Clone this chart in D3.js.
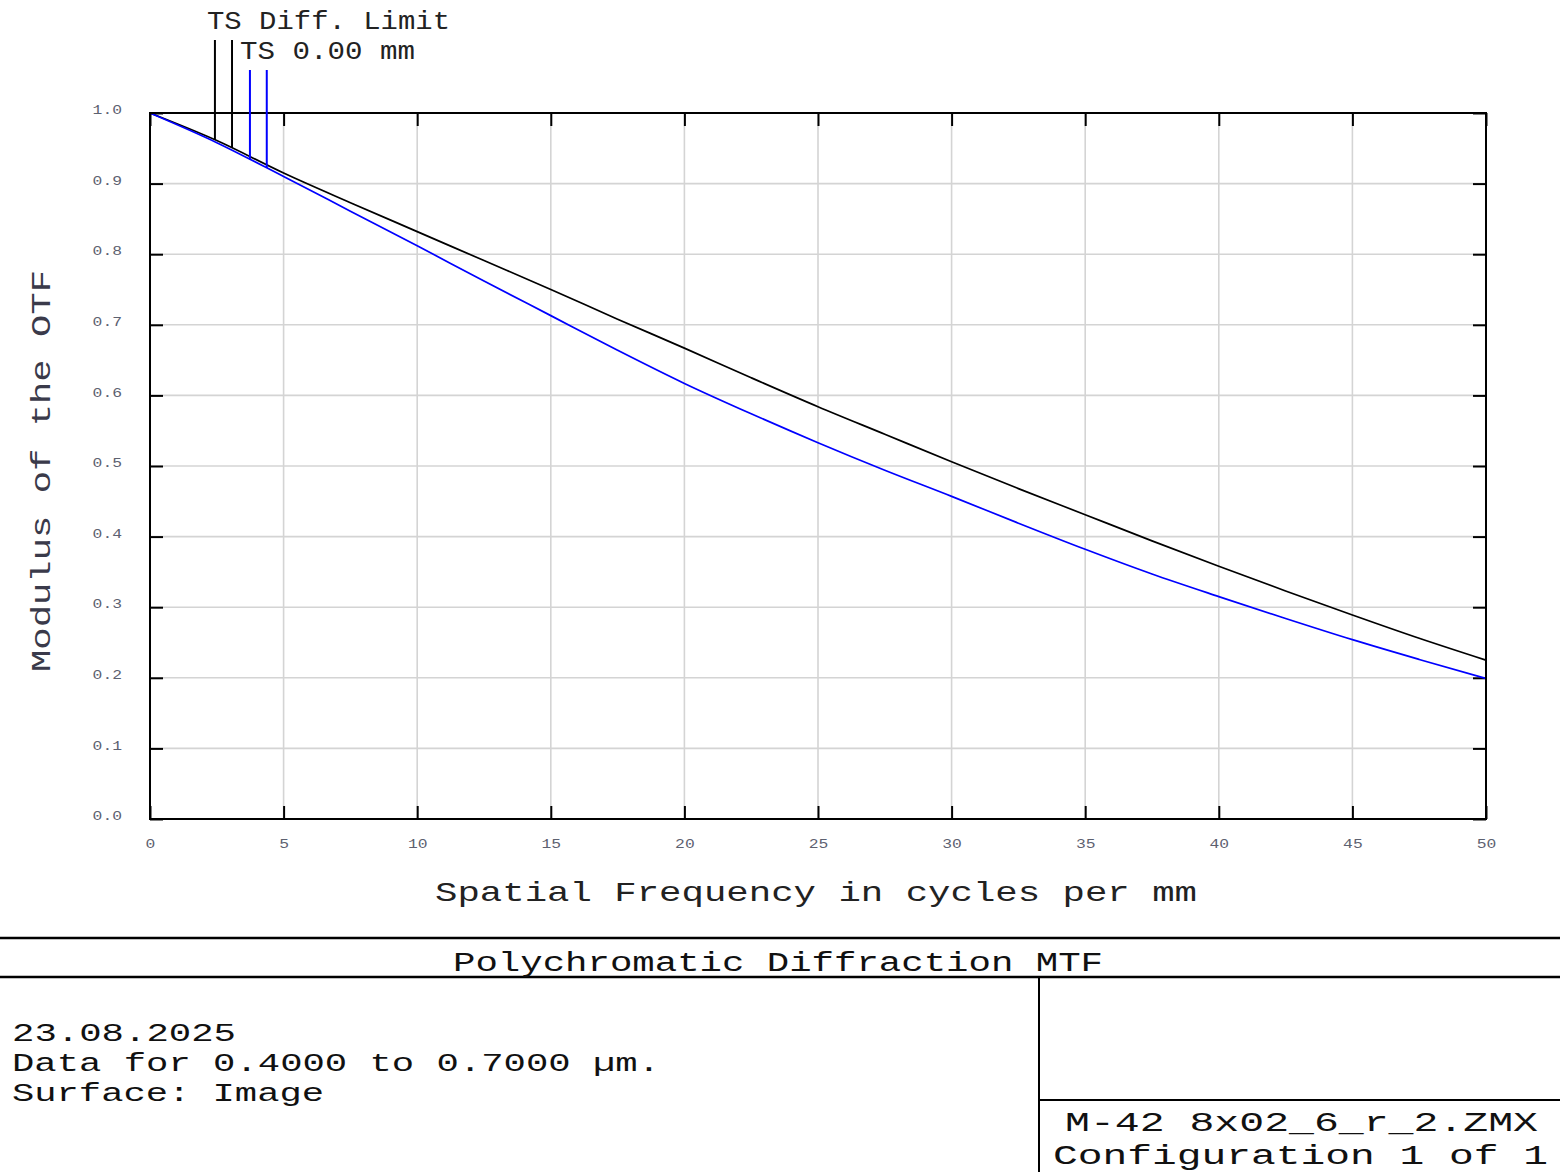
<!DOCTYPE html>
<html>
<head>
<meta charset="utf-8">
<script src="https://cdn.jsdelivr.net/npm/d3@7"></script>
<style>
  html, body { margin: 0; padding: 0; background: #fff; }
  svg { display: block; }
  text { font-family: "Liberation Mono", "Courier New", monospace; }
</style>
</head>
<body>
<svg id="chart" width="1560" height="1172"></svg>
<script>
// ---------- data ----------
const frequencies = [0, 2.5, 5, 7.5, 10, 12.5, 15, 17.5, 20, 22.5, 25, 27.5, 30, 32.5, 35, 37.5, 40, 42.5, 45, 47.5, 50];
const diffLimit   = [1.0, 0.961, 0.915, 0.873, 0.832, 0.791, 0.750, 0.708, 0.667, 0.625, 0.584, 0.545, 0.506, 0.468, 0.431, 0.394, 0.358, 0.323, 0.289, 0.256, 0.225];
const field0      = [1.0, 0.958, 0.910, 0.861, 0.812, 0.762, 0.713, 0.664, 0.617, 0.574, 0.533, 0.494, 0.457, 0.419, 0.382, 0.347, 0.315, 0.284, 0.254, 0.226, 0.199];
const seriesNames = ["TS Diff. Limit", "TS 0.00 mm"];
const legendFreqs = [[2.43, 3.07], [3.74, 4.37]];
const xTicks = [0, 5, 10, 15, 20, 25, 30, 35, 40, 45, 50];
const yTicks = [0.0, 0.1, 0.2, 0.3, 0.4, 0.5, 0.6, 0.7, 0.8, 0.9, 1.0];
const xTitle = "Spatial Frequency in cycles per mm";
const yTitle = "Modulus of the OTF";
const chartTitle = "Polychromatic Diffraction MTF";
const infoLines = ["23.08.2025", "Data for 0.4000 to 0.7000 \u00b5m.", "Surface: Image"];
const fileLines = ["M-42 8x02_6_r_2.ZMX", "Configuration 1 of 1"];

// ---------- layout ----------
const svg = d3.select("#chart");
const L = 150, R = 1486, T = 113, B = 819;
const x = d3.scaleLinear().domain([0, 50]).range([L, R]);
const y = d3.scaleLinear().domain([0, 1]).range([B, T]);
const colors = ["#000000", "#0000ff"];
const series = [diffLimit, field0];

// grid
const grid = svg.append("g");
grid.selectAll(".gx").data(xTicks.slice(1, -1)).join("line")
  .attr("x1", d => x(d)).attr("x2", d => x(d)).attr("y1", T).attr("y2", B)
  .attr("stroke", "#d4d4d4").attr("stroke-width", 1.6);
grid.selectAll(".gy").data(yTicks.slice(1, -1)).join("line")
  .attr("y1", d => y(d)).attr("y2", d => y(d)).attr("x1", L).attr("x2", R)
  .attr("stroke", "#d4d4d4").attr("stroke-width", 1.6);

// axes (inward ticks)
const tickLen = 13;
const fmtY = d3.format(".1f");
const axL = svg.append("g").attr("transform", `translate(${L},0)`)
  .call(d3.axisLeft(y).tickValues(yTicks).tickFormat(fmtY).tickSizeInner(-tickLen).tickSizeOuter(0).tickPadding(28));
const axB = svg.append("g").attr("transform", `translate(0,${B})`)
  .call(d3.axisBottom(x).tickValues(xTicks).tickFormat(d3.format("d")).tickSizeInner(-tickLen).tickSizeOuter(0).tickPadding(20));
const axR = svg.append("g").attr("transform", `translate(${R},0)`)
  .call(d3.axisRight(y).tickValues(yTicks).tickFormat("").tickSizeInner(-tickLen).tickSizeOuter(0));
const axT = svg.append("g").attr("transform", `translate(0,${T})`)
  .call(d3.axisTop(x).tickValues(xTicks).tickFormat("").tickSizeInner(-tickLen).tickSizeOuter(0));
[axL, axB, axR, axT].forEach(a => {
  a.select(".domain").remove();
  a.selectAll(".tick line").attr("stroke", "#000").attr("stroke-width", 2);
  a.selectAll(".tick text").attr("font-family", "'Liberation Mono', monospace")
    .attr("font-size", 13).attr("fill", "#5d6170")
    .attr("textLength", function () { return this.textContent.length * 9.8; })
    .attr("lengthAdjust", "spacingAndGlyphs");
});
axL.selectAll(".tick text").attr("dy", "0.05em");

// curves
const line = d3.line().x((d, i) => x(frequencies[i])).y(d => y(d)).curve(d3.curveMonotoneX);
series.forEach((s, k) => {
  svg.append("path").datum(s).attr("d", line)
    .attr("fill", "none").attr("stroke", colors[k]).attr("stroke-width", 1.7);
});

// frame
svg.append("rect").attr("x", L).attr("y", T).attr("width", R - L).attr("height", B - T)
  .attr("fill", "none").attr("stroke", "#000").attr("stroke-width", 2);

// legend drop lines
function interp(s, f) {
  const i = d3.bisectRight(frequencies, f) - 1;
  const t = (f - frequencies[i]) / (frequencies[i + 1] - frequencies[i]);
  return s[i] + t * (s[i + 1] - s[i]);
}
const legendTop = [40, 70];
series.forEach((s, k) => {
  legendFreqs[k].forEach(f => {
    svg.append("line").attr("x1", x(f)).attr("x2", x(f))
      .attr("y1", legendTop[k]).attr("y2", y(interp(s, f)))
      .attr("stroke", colors[k]).attr("stroke-width", 2);
  });
});
const legendText = [{ x: 207, y: 29, w: 243 }, { x: 240, y: 59, w: 175 }];
seriesNames.forEach((n, k) => {
  svg.append("text").attr("x", legendText[k].x).attr("y", legendText[k].y)
    .attr("font-size", 26).attr("fill", "#222").text(n)
    .attr("textLength", legendText[k].w).attr("lengthAdjust", "spacingAndGlyphs");
});

// axis titles
svg.append("text").attr("x", 435).attr("y", 901).attr("font-size", 28).attr("fill", "#222")
  .attr("textLength", 762).attr("lengthAdjust", "spacingAndGlyphs").text(xTitle);
svg.append("text").attr("transform", "translate(50,672) rotate(-90)").attr("font-size", 28).attr("fill", "#3a3a4a")
  .attr("textLength", 402).attr("lengthAdjust", "spacingAndGlyphs").text(yTitle);

// bottom info box
const box = svg.append("g");
box.append("line").attr("x1", 0).attr("x2", 1560).attr("y1", 938).attr("y2", 938).attr("stroke", "#000").attr("stroke-width", 2.5);
box.append("line").attr("x1", 0).attr("x2", 1560).attr("y1", 977).attr("y2", 977).attr("stroke", "#000").attr("stroke-width", 2.5);
box.append("line").attr("x1", 1039).attr("x2", 1039).attr("y1", 977).attr("y2", 1172).attr("stroke", "#000").attr("stroke-width", 2);
box.append("line").attr("x1", 1039).attr("x2", 1560).attr("y1", 1100).attr("y2", 1100).attr("stroke", "#000").attr("stroke-width", 2);
box.append("text").attr("x", 453).attr("y", 971).attr("font-size", 27).attr("fill", "#111")
  .attr("textLength", 650).attr("lengthAdjust", "spacingAndGlyphs").text(chartTitle);
const infoW = [224, 648, 312];
infoLines.forEach((t, i) => {
  box.append("text").attr("x", 12).attr("y", 1041 + i * 30).attr("font-size", 26).attr("fill", "#111")
    .attr("textLength", infoW[i]).attr("lengthAdjust", "spacingAndGlyphs").text(t);
});
const fileX = [1065, 1053], fileY = [1131, 1164], fileW = [473, 495];
fileLines.forEach((t, i) => {
  box.append("text").attr("x", fileX[i]).attr("y", fileY[i]).attr("font-size", 27).attr("fill", "#111")
    .attr("textLength", fileW[i]).attr("lengthAdjust", "spacingAndGlyphs").text(t);
});
</script>
</body>
</html>
